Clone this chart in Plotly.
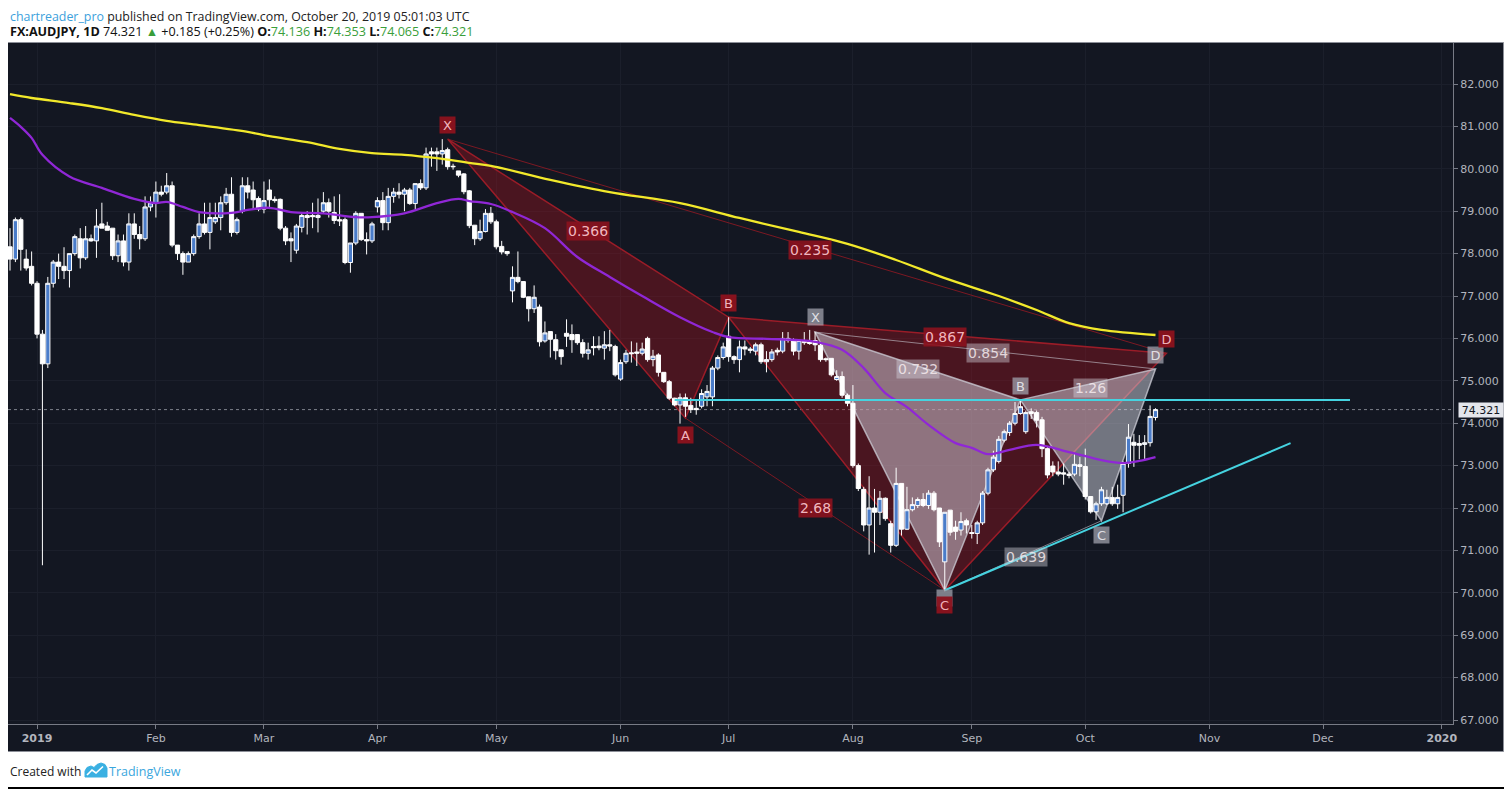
import plotly.graph_objects as go
import pandas as pd

# ---------------- DATA ----------------
# daily candles: (date, open, high, low, close)
ohlc_dec18 = [
    ("2018-12-24", 78.16, 78.60, 77.60, 77.87), ("2018-12-26", 77.87, 78.85, 77.80, 78.80),
    ("2018-12-27", 78.80, 78.85, 77.60, 78.10), ("2018-12-28", 77.87, 78.10, 77.60, 77.66),
    ("2018-12-31", 77.70, 78.05, 77.25, 77.30),
]
ohlc_jan19 = [
    ("2019-01-02", 77.30, 77.35, 76.00, 76.10), ("2019-01-03", 76.10, 76.20, 70.65, 75.40),
    ("2019-01-04", 75.40, 77.45, 75.30, 77.30), ("2019-01-07", 77.30, 77.85, 77.20, 77.80),
    ("2019-01-08", 77.80, 78.00, 77.40, 77.70), ("2019-01-09", 77.70, 78.15, 77.40, 77.60),
    ("2019-01-10", 77.60, 78.00, 77.20, 78.00), ("2019-01-11", 78.00, 78.45, 77.95, 78.40),
    ("2019-01-14", 78.35, 78.60, 77.65, 77.90), ("2019-01-15", 77.90, 78.65, 77.85, 78.35),
    ("2019-01-16", 78.35, 78.45, 78.28, 78.30), ("2019-01-17", 78.30, 79.05, 77.90, 78.65),
    ("2019-01-18", 78.70, 79.20, 78.60, 78.60), ("2019-01-21", 78.65, 78.75, 78.55, 78.55),
    ("2019-01-22", 78.60, 78.60, 77.85, 77.95), ("2019-01-23", 77.95, 78.45, 77.80, 78.30),
    ("2019-01-24", 78.30, 78.45, 77.70, 77.80), ("2019-01-25", 77.80, 78.95, 77.60, 78.70),
    ("2019-01-28", 78.70, 78.95, 78.35, 78.45), ("2019-01-29", 78.45, 78.65, 78.10, 78.35),
    ("2019-01-30", 78.35, 79.35, 78.30, 79.10), ("2019-01-31", 79.10, 79.35, 79.00, 79.20),
]
ohlc_feb19 = [
    ("2019-02-01", 79.20, 79.70, 78.85, 79.45), ("2019-02-04", 79.45, 79.60, 79.35, 79.40),
    ("2019-02-05", 79.45, 79.90, 79.40, 79.60), ("2019-02-06", 79.60, 79.70, 78.15, 78.20),
    ("2019-02-07", 78.20, 78.20, 77.85, 78.00), ("2019-02-08", 78.00, 78.05, 77.50, 77.80),
    ("2019-02-11", 77.80, 78.05, 77.80, 78.00), ("2019-02-12", 78.00, 78.45, 77.95, 78.40),
    ("2019-02-13", 78.40, 78.95, 78.35, 78.70), ("2019-02-14", 78.70, 79.20, 78.45, 78.50),
    ("2019-02-15", 78.50, 79.20, 78.10, 78.85), ("2019-02-18", 78.75, 79.20, 78.70, 78.85),
    ("2019-02-19", 78.85, 79.35, 78.55, 79.20), ("2019-02-20", 79.20, 79.55, 79.15, 79.40),
    ("2019-02-21", 79.40, 79.80, 78.40, 78.50), ("2019-02-22", 78.50, 78.85, 78.45, 78.80),
    ("2019-02-25", 79.00, 79.80, 78.95, 79.60), ("2019-02-26", 79.60, 79.80, 79.30, 79.45),
    ("2019-02-27", 79.50, 79.70, 79.05, 79.27), ("2019-02-28", 79.30, 79.35, 79.00, 79.05),
]
ohlc_mar19 = [
    ("2019-03-01", 79.05, 79.70, 78.95, 79.25), ("2019-03-04", 79.50, 79.75, 79.05, 79.27),
    ("2019-03-05", 79.28, 79.35, 79.20, 79.25), ("2019-03-06", 79.28, 79.30, 78.55, 78.60),
    ("2019-03-07", 78.60, 78.65, 78.20, 78.30), ("2019-03-08", 78.35, 78.50, 77.80, 78.30),
    ("2019-03-11", 78.08, 78.70, 78.00, 78.65), ("2019-03-12", 78.62, 78.95, 78.50, 78.90),
    ("2019-03-13", 78.90, 79.00, 78.45, 78.85), ("2019-03-14", 78.90, 79.20, 78.60, 78.87),
    ("2019-03-15", 78.85, 79.30, 78.50, 78.90), ("2019-03-18", 79.00, 79.45, 78.95, 79.20),
    ("2019-03-19", 79.20, 79.30, 78.85, 79.00), ("2019-03-20", 78.97, 79.35, 78.70, 78.78),
    ("2019-03-21", 78.80, 79.40, 78.65, 78.77), ("2019-03-22", 78.80, 78.85, 77.75, 77.79),
    ("2019-03-25", 77.79, 78.25, 77.55, 78.25), ("2019-03-26", 78.25, 79.00, 78.20, 78.95),
    ("2019-03-27", 78.95, 78.95, 78.30, 78.33), ("2019-03-28", 78.33, 78.50, 77.98, 78.30),
    ("2019-03-29", 78.30, 78.75, 78.25, 78.70),
]
ohlc_apr19 = [
    ("2019-04-01", 79.10, 79.33, 78.97, 79.25), ("2019-04-02", 79.25, 79.45, 78.55, 78.73),
    ("2019-04-03", 78.73, 79.55, 78.55, 79.35), ("2019-04-04", 79.35, 79.55, 79.20, 79.45),
    ("2019-04-05", 79.45, 79.66, 79.30, 79.40), ("2019-04-08", 79.40, 79.55, 79.00, 79.50),
    ("2019-04-09", 79.50, 79.55, 79.15, 79.18), ("2019-04-10", 79.18, 79.65, 79.05, 79.65),
    ("2019-04-11", 79.65, 79.75, 79.50, 79.55), ("2019-04-12", 79.55, 80.50, 79.50, 80.35),
    ("2019-04-15", 80.40, 80.50, 80.05, 80.35), ("2019-04-16", 80.40, 80.50, 79.95, 80.35),
    ("2019-04-17", 80.35, 80.70, 80.10, 80.43), ("2019-04-18", 80.45, 80.50, 79.98, 80.05),
    ("2019-04-19", 80.06, 80.12, 79.98, 80.05), ("2019-04-22", 79.95, 79.95, 79.80, 79.85),
    ("2019-04-23", 79.88, 79.90, 79.40, 79.46), ("2019-04-24", 79.48, 79.50, 78.60, 78.66),
    ("2019-04-25", 78.67, 78.67, 78.20, 78.35), ("2019-04-26", 78.35, 78.80, 78.30, 78.52),
    ("2019-04-29", 78.52, 79.05, 78.50, 78.95), ("2019-04-30", 78.95, 79.10, 78.70, 78.75),
]
ohlc_may19 = [
    ("2019-05-01", 78.75, 78.80, 78.10, 78.16), ("2019-05-02", 78.17, 78.30, 77.98, 78.04),
    ("2019-05-03", 78.05, 78.06, 77.95, 78.00), ("2019-05-06", 77.12, 77.70, 76.85, 77.44),
    ("2019-05-07", 77.44, 78.05, 77.30, 77.34), ("2019-05-08", 77.34, 77.35, 76.95, 76.97),
    ("2019-05-09", 76.98, 76.98, 76.40, 76.70), ("2019-05-10", 76.70, 77.25, 76.60, 76.97),
    ("2019-05-13", 76.74, 76.80, 75.81, 75.92), ("2019-05-14", 75.94, 76.40, 75.90, 76.13),
    ("2019-05-15", 76.16, 76.16, 75.55, 75.98), ("2019-05-16", 75.97, 76.10, 75.50, 75.71),
    ("2019-05-17", 75.73, 75.73, 75.38, 75.57), ("2019-05-20", 76.12, 76.45, 75.80, 76.05),
    ("2019-05-21", 76.09, 76.33, 75.66, 75.97), ("2019-05-22", 76.09, 76.10, 75.85, 75.90),
    ("2019-05-23", 75.90, 75.98, 75.55, 75.65), ("2019-05-24", 75.65, 75.90, 75.50, 75.73),
    ("2019-05-27", 75.81, 76.05, 75.60, 75.78), ("2019-05-28", 75.82, 76.05, 75.72, 75.78),
    ("2019-05-29", 75.77, 76.17, 75.50, 75.85), ("2019-05-30", 75.85, 76.20, 75.70, 75.82),
    ("2019-05-31", 75.81, 75.85, 75.10, 75.14),
]
ohlc_jun19 = [
    ("2019-06-03", 75.04, 75.50, 75.00, 75.43), ("2019-06-04", 75.45, 75.73, 75.40, 75.65),
    ("2019-06-05", 75.66, 75.93, 75.43, 75.64), ("2019-06-06", 75.68, 75.90, 75.35, 75.65),
    ("2019-06-07", 75.65, 75.90, 75.60, 75.75), ("2019-06-10", 76.00, 76.04, 75.45, 75.50),
    ("2019-06-11", 75.50, 75.73, 75.34, 75.58), ("2019-06-12", 75.61, 75.65, 75.10, 75.20),
    ("2019-06-13", 75.20, 75.20, 74.95, 74.98), ("2019-06-14", 74.98, 75.02, 74.55, 74.59),
    ("2019-06-17", 74.59, 74.60, 74.40, 74.43), ("2019-06-18", 74.43, 74.70, 73.99, 74.60),
    ("2019-06-19", 74.60, 74.70, 74.15, 74.40), ("2019-06-20", 74.42, 74.60, 74.24, 74.32),
    ("2019-06-21", 74.35, 74.55, 74.20, 74.32), ("2019-06-24", 74.40, 74.80, 74.35, 74.70),
    ("2019-06-25", 74.62, 74.90, 74.40, 74.75), ("2019-06-26", 74.62, 75.35, 74.40, 75.30),
    ("2019-06-27", 75.30, 75.60, 75.25, 75.55), ("2019-06-28", 75.55, 75.90, 75.50, 75.80),
]
ohlc_jul19 = [
    ("2019-07-01", 76.05, 76.50, 75.45, 75.57), ("2019-07-02", 75.57, 75.60, 75.40, 75.50),
    ("2019-07-03", 75.50, 75.95, 75.20, 75.80), ("2019-07-04", 75.80, 75.95, 75.60, 75.75),
    ("2019-07-05", 75.75, 75.80, 75.65, 75.72), ("2019-07-08", 75.70, 75.90, 75.60, 75.85),
    ("2019-07-09", 75.85, 75.90, 75.40, 75.45), ("2019-07-10", 75.45, 75.70, 75.20, 75.50),
    ("2019-07-11", 75.50, 75.75, 75.45, 75.68), ("2019-07-12", 75.72, 75.78, 75.60, 75.68),
    ("2019-07-15", 75.70, 76.15, 75.65, 76.00), ("2019-07-16", 76.00, 76.15, 75.90, 75.95),
    ("2019-07-17", 75.95, 76.00, 75.60, 75.70), ("2019-07-18", 75.70, 75.95, 75.50, 75.95),
    ("2019-07-19", 75.95, 76.15, 75.85, 75.90), ("2019-07-22", 75.92, 76.20, 75.85, 75.88),
    ("2019-07-23", 75.95, 76.15, 75.70, 75.85), ("2019-07-24", 75.84, 75.90, 75.45, 75.50),
    ("2019-07-25", 75.52, 75.55, 75.45, 75.50), ("2019-07-26", 75.53, 75.53, 75.10, 75.14),
    ("2019-07-29", 75.03, 75.25, 75.00, 75.10), ("2019-07-30", 75.10, 75.22, 74.60, 74.66),
    ("2019-07-31", 74.66, 74.70, 74.40, 74.47),
]
ohlc_aug19 = [
    ("2019-08-01", 74.47, 74.90, 72.95, 73.00), ("2019-08-02", 73.00, 73.05, 72.40, 72.46),
    ("2019-08-05", 72.44, 72.50, 71.45, 71.60), ("2019-08-06", 71.60, 72.75, 70.90, 72.00),
    ("2019-08-07", 72.00, 72.45, 70.95, 71.90), ("2019-08-08", 71.90, 72.40, 71.60, 72.23),
    ("2019-08-09", 72.23, 72.25, 71.70, 71.75), ("2019-08-12", 71.63, 71.70, 70.95, 71.12),
    ("2019-08-13", 71.12, 72.95, 71.08, 72.58), ("2019-08-14", 72.58, 72.58, 71.35, 71.50),
    ("2019-08-15", 71.50, 72.50, 71.48, 71.96), ("2019-08-16", 71.96, 72.25, 71.92, 72.08),
    ("2019-08-19", 72.06, 72.25, 72.00, 72.20), ("2019-08-20", 72.20, 72.35, 72.02, 72.06),
    ("2019-08-21", 72.06, 72.42, 71.98, 72.35), ("2019-08-22", 72.35, 72.40, 71.92, 71.96),
    ("2019-08-23", 72.00, 72.00, 71.08, 71.20), ("2019-08-26", 70.73, 71.90, 70.06, 71.90),
    ("2019-08-27", 71.95, 71.95, 71.35, 71.43), ("2019-08-28", 71.55, 71.70, 71.25, 71.45),
    ("2019-08-29", 71.48, 71.90, 71.35, 71.68), ("2019-08-30", 71.70, 71.75, 71.40, 71.60),
]
ohlc_sep19 = [
    ("2019-09-02", 71.42, 71.60, 71.28, 71.40), ("2019-09-03", 71.40, 71.70, 71.15, 71.65),
    ("2019-09-04", 71.65, 72.40, 71.60, 72.35), ("2019-09-05", 72.35, 72.95, 72.30, 72.90),
    ("2019-09-06", 72.90, 73.35, 72.85, 73.20), ("2019-09-09", 73.10, 73.70, 73.05, 73.62),
    ("2019-09-10", 73.60, 73.85, 73.55, 73.80), ("2019-09-11", 73.78, 74.05, 73.70, 74.00),
    ("2019-09-12", 74.00, 74.50, 73.95, 74.23), ("2019-09-13", 74.23, 74.55, 74.20, 74.39),
    ("2019-09-16", 73.80, 74.30, 73.75, 74.25), ("2019-09-17", 74.27, 74.35, 74.10, 74.23),
    ("2019-09-18", 74.25, 74.30, 73.90, 74.07), ("2019-09-19", 74.08, 74.15, 73.20, 73.40),
    ("2019-09-20", 73.40, 73.45, 72.70, 72.78), ("2019-09-23", 72.99, 73.10, 72.75, 72.85),
    ("2019-09-24", 72.85, 73.10, 72.75, 72.80), ("2019-09-25", 72.83, 73.05, 72.55, 72.80),
    ("2019-09-26", 72.80, 72.85, 72.70, 72.77), ("2019-09-27", 72.80, 73.30, 72.75, 73.03),
    ("2019-09-30", 73.02, 73.20, 72.75, 72.98),
]
ohlc_oct19 = [
    ("2019-10-01", 72.98, 73.40, 72.20, 72.27), ("2019-10-02", 72.27, 72.27, 71.87, 71.91),
    ("2019-10-03", 71.91, 72.15, 71.72, 72.10), ("2019-10-04", 72.10, 72.50, 72.05, 72.43),
    ("2019-10-07", 72.10, 72.43, 72.07, 72.25), ("2019-10-08", 72.25, 72.50, 72.05, 72.10),
    ("2019-10-09", 72.10, 72.55, 71.98, 72.25), ("2019-10-10", 72.30, 73.10, 71.90, 73.05),
    ("2019-10-11", 73.05, 73.98, 72.95, 73.67), ("2019-10-14", 73.55, 73.75, 72.97, 73.48),
    ("2019-10-15", 73.52, 73.72, 73.15, 73.48), ("2019-10-16", 73.50, 73.72, 73.15, 73.54),
    ("2019-10-17", 73.54, 74.42, 73.45, 74.16), ("2019-10-18", 74.136, 74.353, 74.065, 74.321),
]

# moving averages (sampled read-offs)
ma200_dates = ["2018-12-24", "2018-12-31", "2019-01-10", "2019-01-18", "2019-01-28", "2019-02-05",
               "2019-02-13", "2019-02-26", "2019-03-04", "2019-03-13", "2019-03-21", "2019-03-29",
               "2019-04-08", "2019-04-16", "2019-04-24", "2019-04-30", "2019-05-15", "2019-05-30",
               "2019-06-18", "2019-07-03", "2019-07-18", "2019-07-31", "2019-08-13", "2019-08-26",
               "2019-09-09", "2019-09-18", "2019-09-26", "2019-10-04", "2019-10-18"]
ma200_vals = [81.76, 81.67, 81.55, 81.43, 81.27, 81.13, 81.03, 80.87, 80.77, 80.63, 80.47, 80.37,
              80.33, 80.25, 80.14, 80.07, 79.74, 79.45, 79.19, 78.84, 78.51, 78.23, 77.85, 77.42,
              77.00, 76.67, 76.36, 76.20, 76.08]
ma50_dates = ["2018-12-24", "2018-12-27", "2018-12-31", "2019-01-03", "2019-01-10", "2019-01-18",
              "2019-01-28", "2019-02-01", "2019-02-05", "2019-02-08", "2019-02-13", "2019-02-21",
              "2019-02-26", "2019-03-04", "2019-03-08", "2019-03-18", "2019-03-26", "2019-03-29",
              "2019-04-08", "2019-04-16", "2019-04-22", "2019-04-24", "2019-04-30", "2019-05-06",
              "2019-05-14", "2019-05-22", "2019-05-30", "2019-06-07", "2019-06-18", "2019-06-26",
              "2019-07-01", "2019-07-10", "2019-07-18", "2019-07-23", "2019-07-30", "2019-08-05",
              "2019-08-09", "2019-08-15", "2019-08-21", "2019-08-28", "2019-09-02", "2019-09-05",
              "2019-09-11", "2019-09-18", "2019-09-26", "2019-10-04", "2019-10-10", "2019-10-15",
              "2019-10-18"]
ma50_vals = [81.20, 80.99, 80.73, 80.33, 79.82, 79.55, 79.29, 79.19, 79.22, 79.10, 78.98, 78.96,
             79.03, 79.08, 78.98, 78.95, 78.86, 78.86, 78.95, 79.19, 79.29, 79.24, 79.17, 78.98,
             78.60, 77.92, 77.45, 77.00, 76.50, 76.15, 76.03, 75.99, 75.96, 75.92, 75.73, 75.30,
             74.71, 74.38, 73.96, 73.53, 73.42, 73.27, 73.37, 73.49, 73.32, 73.13, 73.06, 73.11,
             73.20]

# harmonic patterns (X, A, B, C, D)
p1_dates = ["2019-04-18", "2019-06-19", "2019-07-01", "2019-08-26", "2019-10-22"]
p1_prices = [80.70, 74.12, 76.50, 70.06, 75.65]
p2_dates = ["2019-07-23", "2019-08-26", "2019-09-13", "2019-10-04", "2019-10-18"]
p2_prices = [76.15, 70.06, 74.55, 71.70, 75.28]
point_letters = ["X", "A", "B", "C", "D"]
p1_label_prices = [81.03, 73.72, 76.84, 69.71, 75.98]
p2_label_prices = [76.51, 69.88, 74.88, 71.36, 75.61]
p1_ratio_text = ["0.366", "0.235", "2.68", "0.867"]
p1_ratio_dates = ["2019-05-24", "2019-07-22", "2019-07-23", "2019-08-26"]
p1_ratio_prices = [78.54, 78.08, 71.99, 76.03]
p2_ratio_text = ["0.732", "0.854", "1.26", "0.639"]
p2_ratio_dates = ["2019-08-19", "2019-09-05", "2019-10-02", "2019-09-16"]
p2_ratio_prices = [75.28, 75.65, 74.82, 70.85]

# cyan drawings
hline_dates = ["2019-06-17", "2019-12-09"]
hline_prices = [74.55, 74.55]
trend_dates = ["2019-08-26", "2019-11-22"]
trend_prices = [70.06, 73.53]

last_price = 74.321

# axis ticks
month_tick_dates = ["2019-01-02", "2019-02-01", "2019-03-01", "2019-04-01", "2019-05-01", "2019-06-03",
                    "2019-07-01", "2019-08-01", "2019-09-02", "2019-10-01", "2019-11-01", "2019-12-02",
                    "2020-01-01"]
month_tick_text = ["<b>2019</b>", "Feb", "Mar", "Apr", "May", "Jun", "Jul", "Aug", "Sep", "Oct", "Nov",
                   "Dec", "<b>2020</b>"]
holidays = ["2018-12-25", "2019-01-01"]

# ---------------- BUILD ----------------
rows = (ohlc_dec18 + ohlc_jan19 + ohlc_feb19 + ohlc_mar19 + ohlc_apr19 + ohlc_may19 +
        ohlc_jun19 + ohlc_jul19 + ohlc_aug19 + ohlc_sep19 + ohlc_oct19)
c_dates = [r[0] for r in rows]
c_open = [r[1] for r in rows]
c_high = [r[2] for r in rows]
c_low = [r[3] for r in rows]
c_close = [r[4] for r in rows]

all_days = [d.strftime("%Y-%m-%d") for d in pd.bdate_range("2018-12-24", "2020-01-03")]
all_days = [d for d in all_days if d not in holidays]
pos = {d: i for i, d in enumerate(all_days)}

# page is offset by the browser's 8px body margin, so the figure is 8px smaller
OFF = 8
W, H = 1512 - OFF, 789 - OFF
# plot area in page pixels
L, R, T, B = 8, 1453, 43, 724


def pxx(x):  # page pixel x -> paper
    return (x - L) / (R - L)


def pxy(y):  # page pixel y -> paper
    return (B - y) / (B - T)


BG = "#131722"
RED_FILL = "rgba(150,20,30,0.42)"
RED_LINE = "rgba(160,28,40,0.95)"
GRAY_FILL = "rgba(220,220,232,0.48)"
GRAY_LINE = "rgba(205,205,215,0.75)"

fig = go.Figure()
fig.add_trace(go.Scatter(x=all_days, y=[None] * len(all_days), mode="lines",
                         showlegend=False, hoverinfo="skip"))

shapes = [
    dict(type="rect", xref="paper", yref="paper", x0=pxx(7.5), x1=pxx(1503.5), y0=pxy(751.5), y1=pxy(42.5),
         fillcolor=BG, line=dict(color="#8c8f98", width=1), layer="below"),
    dict(type="line", xref="paper", yref="y", x0=0, x1=1, y0=last_price, y1=last_price,
         line=dict(color="#7d808a", width=1, dash="dot"), layer="below"),
]


def tri(dates, prices, idx, fill, line):
    pts = [(pos[dates[i]], prices[i]) for i in idx]
    p = "M " + " L ".join(f"{x},{y}" for x, y in pts) + " Z"
    shapes.append(dict(type="path", xref="x", yref="y", path=p, fillcolor=fill,
                       line=dict(color=line, width=1.5), layer="between"))


def seg(dates, prices, i, j, color, width=1):
    shapes.append(dict(type="line", xref="x", yref="y", x0=pos[dates[i]], y0=prices[i],
                       x1=pos[dates[j]], y1=prices[j], line=dict(color=color, width=width),
                       layer="between"))


# pattern 1 (red)
tri(p1_dates, p1_prices, [0, 1, 2], RED_FILL, RED_LINE)
tri(p1_dates, p1_prices, [2, 3, 4], RED_FILL, RED_LINE)
seg(p1_dates, p1_prices, 1, 3, "rgba(150,25,35,0.8)")
seg(p1_dates, p1_prices, 0, 4, "rgba(150,25,35,0.8)")
# pattern 2 (gray)
tri(p2_dates, p2_prices, [0, 1, 2], GRAY_FILL, GRAY_LINE)
tri(p2_dates, p2_prices, [2, 3, 4], GRAY_FILL, GRAY_LINE)
seg(p2_dates, p2_prices, 1, 3, "rgba(200,200,210,0.6)")
seg(p2_dates, p2_prices, 0, 4, "rgba(200,200,210,0.6)")


# candles
fig.add_trace(go.Candlestick(
    x=c_dates, open=c_open, high=c_high, low=c_low, close=c_close,
    increasing=dict(line=dict(color="#ffffff", width=1), fillcolor="#4a7cc9"),
    decreasing=dict(line=dict(color="#ffffff", width=1), fillcolor="#ffffff"),
    whiskerwidth=0, showlegend=False, hoverinfo="skip"))

# moving averages
fig.add_trace(go.Scatter(x=ma200_dates, y=ma200_vals, mode="lines", line_shape="spline",
                         line=dict(color="#f2e92b", width=2.3), showlegend=False, hoverinfo="skip"))
fig.add_trace(go.Scatter(x=ma50_dates, y=ma50_vals, mode="lines", line_shape="spline",
                         line=dict(color="#9027d6", width=2.3), showlegend=False, hoverinfo="skip"))

# cyan lines
fig.add_trace(go.Scatter(x=hline_dates, y=hline_prices, mode="lines",
                         line=dict(color="#45d3e0", width=2), showlegend=False, hoverinfo="skip"))
fig.add_trace(go.Scatter(x=trend_dates, y=trend_prices, mode="lines",
                         line=dict(color="#45d3e0", width=2), showlegend=False, hoverinfo="skip"))

# ---------------- annotations ----------------
ann = []
LABEL_FONT = "DejaVu Sans"
for t, d, p in zip(p2_ratio_text, p2_ratio_dates, p2_ratio_prices):
    ann.append(dict(x=pos[d], y=p, xref="x", yref="y", text=t, showarrow=False,
                    bgcolor="rgba(215,215,225,0.42)", borderpad=1,
                    font=dict(family=LABEL_FONT, size=14, color="rgba(245,235,238,0.85)")))
for t, d, p in zip(p1_ratio_text, p1_ratio_dates, p1_ratio_prices):
    ann.append(dict(x=pos[d], y=p, xref="x", yref="y", text=t, showarrow=False,
                    bgcolor="rgba(140,18,30,0.9)", borderpad=1,
                    font=dict(family=LABEL_FONT, size=14, color="rgba(255,205,212,0.9)")))
for t, d, p in zip(point_letters, p2_dates, p2_label_prices):
    # the gray "A" sits under the red "C" label: only its box edge shows in the reference
    txt = " " if (t == "A") else t
    ann.append(dict(x=pos[d], y=p, xref="x", yref="y", text=txt, showarrow=False,
                    bgcolor="rgba(160,162,172,0.75)", width=15, height=16, borderpad=0,
                    font=dict(family=LABEL_FONT, size=13, color="rgba(235,235,240,0.9)")))
for t, d, p in zip(point_letters, p1_dates, p1_label_prices):
    ann.append(dict(x=pos[d], y=p, xref="x", yref="y", text=t, showarrow=False,
                    bgcolor="rgba(140,18,30,0.95)", width=15, height=16, borderpad=0,
                    font=dict(family=LABEL_FONT, size=13, color="rgba(255,200,208,0.9)")))

# last price label
ann.append(dict(x=1.0, y=last_price, xref="paper", yref="y", xanchor="left", xshift=5,
                text=f"{last_price:.3f}", showarrow=False, bgcolor="#e4e6ec", width=44, height=14,
                borderpad=0, font=dict(family="DejaVu Sans", size=11, color="#131722")))

# header
HDR = "Open Sans"
green = "#3a9e3a"
ann.append(dict(x=0, y=pxy(16.5), xref="paper", yref="paper", xanchor="left", yanchor="middle",
                showarrow=False,
                text="<span style='color:#3c9fdc'>chartreader_pro</span> published on TradingView.com, "
                     "October 20, 2019 05:01:03 UTC",
                font=dict(family=HDR, size=12.4, color="#222222")))
ann.append(dict(x=0, y=pxy(31.5), xref="paper", yref="paper", xanchor="left", yanchor="middle",
                showarrow=False,
                text=(f"<b>FX:AUDJPY, 1D</b> {last_price:.3f} <span style='color:{green}'>▲</span> "
                      f"+0.185 (+0.25%) <b>O:</b><span style='color:{green}'>74.136</span> "
                      f"<b>H:</b><span style='color:{green}'>74.353</span> "
                      f"<b>L:</b><span style='color:{green}'>74.065</span> "
                      f"<b>C:</b><span style='color:{green}'>74.321</span>"),
                font=dict(family=HDR, size=12.6, color="#111111")))
# footer
ann.append(dict(x=0, y=pxy(771), xref="paper", yref="paper", xanchor="left", yanchor="middle",
                showarrow=False, text="Created with",
                font=dict(family=HDR, size=12, color="#222222")))
ann.append(dict(x=pxx(107), y=pxy(771), xref="paper", yref="paper", xanchor="left", yanchor="middle",
                showarrow=False, text="TradingView",
                font=dict(family=HDR, size=12.5, color="#3aa6dd")))


def path(points, close=True):
    s = "M " + " L ".join(f"{pxx(x):.5f},{pxy(y):.5f}" for x, y in points)
    return s + (" Z" if close else "")


shapes += [
    dict(type="rect", xref="paper", yref="paper", x0=pxx(1), x1=pxx(1511), y0=pxy(788), y1=pxy(0.5),
         line=dict(color="#000000", width=2), fillcolor="rgba(0,0,0,0)", layer="above"),
    # TradingView logo (cloud + zigzag)
    dict(type="path", xref="paper", yref="paper",
         path=path([(85, 777), (85, 771), (87, 767.5), (91, 766), (94, 767.5), (97, 764.5), (101, 763),
                    (105, 764.5), (107, 768), (107, 777)]),
         fillcolor="#3ab0e2", line=dict(color="#3ab0e2", width=1), layer="above"),
    dict(type="path", xref="paper", yref="paper",
         path=path([(87, 775), (92, 770), (96, 773), (103, 766.5)], close=False),
         line=dict(color="#ffffff", width=1.6), layer="above"),
]

AX_FONT = dict(family="DejaVu Sans", size=11, color="#b2b5be")
fig.update_layout(
    width=W, height=H,
    margin=dict(l=L - OFF, r=1512 - R, t=T - OFF, b=789 - B),
    paper_bgcolor="#ffffff", plot_bgcolor=BG,
    showlegend=False,
    boxgap=0.15, boxgroupgap=0.09,
    annotations=ann, shapes=shapes,
    xaxis=dict(type="category", categoryorder="array", categoryarray=all_days,
               range=[-0.37, pos["2020-01-03"] + 0.06],
               tickmode="array", tickvals=month_tick_dates, ticktext=month_tick_text,
               showgrid=True, gridcolor="#1b1f2b", gridwidth=1,
               ticks="outside", ticklen=4, tickcolor="#787b86",
               showline=True, linecolor="#787b86", linewidth=1,
               tickfont=AX_FONT, rangeslider=dict(visible=False), fixedrange=True, zeroline=False),
    yaxis=dict(side="right", range=[66.906, 82.967], dtick=1, tick0=0, tickformat=".3f",
               showgrid=True, gridcolor="#1b1f2b", gridwidth=1,
               ticks="outside", ticklen=4, tickcolor="#787b86",
               showline=True, linecolor="#787b86", linewidth=1, mirror=False,
               tickfont=AX_FONT, zeroline=False, fixedrange=True),
)

fig.write_html("out.html")
